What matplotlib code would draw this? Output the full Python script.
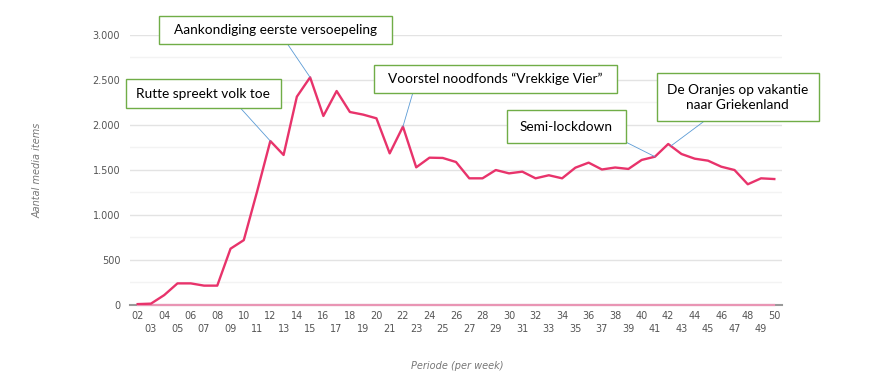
import matplotlib
matplotlib.use("Agg")
import matplotlib.pyplot as plt
from matplotlib.patches import Rectangle
from matplotlib.ticker import MultipleLocator, FuncFormatter

weeks = list(range(2, 51))
media_items = [10, 15, 110, 240, 240, 215, 215, 625, 720, 1258, 1820, 1665,
               2312, 2527, 2098, 2375, 2142, 2113, 2072, 1683, 1980, 1528,
               1635, 1632, 1587, 1406, 1406, 1498, 1461, 1480, 1406, 1440,
               1406, 1524, 1580, 1504, 1526, 1510, 1610, 1646, 1787, 1676,
               1624, 1602, 1535, 1498, 1340, 1406, 1398]
second_series = [0] * len(weeks)
week_labels = [f"{w:02d}" for w in weeks]

annotations = [
    ("Rutte spreekt volk toe", 12),
    ("Aankondiging eerste versoepeling", 15),
    ("Voorstel noodfonds \u201cVrekkige Vier\u201d", 22),
    ("Semi-lockdown", 41),
    ("De Oranjes op vakantie\nnaar Griekenland", 42.2),
]

W, H = 885, 376
fig = plt.figure(figsize=(W / 100, H / 100), dpi=100)
ax = fig.add_axes([130 / W, 1 - 305 / H, (782 - 130) / W, (305 - 34.7) / H])

ax.set_xlim(1.42, 50.58)
ax.set_ylim(0, 3000)

ax.yaxis.set_major_locator(MultipleLocator(500))
ax.yaxis.set_minor_locator(MultipleLocator(250))
ax.yaxis.set_major_formatter(FuncFormatter(lambda v, p: f"{int(v):,}".replace(",", ".")))
ax.grid(axis="y", which="major", color="#e3e3e3", lw=1.0)
ax.grid(axis="y", which="minor", color="#f3f3f3", lw=1.0)
ax.set_axisbelow(True)

ax.set_xticks([w for w in weeks if w % 2 == 0])
ax.set_xticklabels([l for w, l in zip(weeks, week_labels) if w % 2 == 0])
ax.set_xticks([w for w in weeks if w % 2 == 1], minor=True)
ax.set_xticklabels([l for w, l in zip(weeks, week_labels) if w % 2 == 1], minor=True)

ax.tick_params(axis="x", which="major", length=0, pad=4.5, labelsize=7, labelcolor="#555555")
ax.tick_params(axis="x", which="minor", length=0, pad=14, labelsize=7, labelcolor="#555555")
ax.tick_params(axis="y", which="both", length=0, pad=7, labelsize=7, labelcolor="#555555")

for s in ["top", "right", "left"]:
    ax.spines[s].set_visible(False)
ax.spines["bottom"].set_color("#999999")
ax.spines["bottom"].set_linewidth(1.5)

ax.plot(weeks, second_series, color="#e995b4", lw=1.6, zorder=3, clip_on=False)
ax.plot(weeks, media_items, color="#e8336b", lw=1.7, zorder=4)

ax.set_ylabel("Aantal media items", fontsize=7, style="italic", color="#777777")
ax.yaxis.set_label_coords(-(130 - 43) / (782 - 130), (305 - 170) / (305 - 34.7))
ax.set_xlabel("Periode (per week)", fontsize=7, style="italic", color="#777777")
ax.xaxis.set_label_coords((457 - 130) / (782 - 130), -(361 - 305) / (305 - 34.7))

# boxes: (x0, y0, x1, y1) in pixels from top-left; leader start in pixels
boxes = [
    (125.7, 79.3, 280.7, 108.3, (240.7, 108.3)),
    (159.3, 16.3, 391.7, 44.3, (287.7, 44.3)),
    (374.3, 65.0, 616.7, 93.3, (412.7, 93.3)),
    (507.3, 110.3, 625.7, 143.3, (625.7, 142.0)),
    (656.7, 73.3, 818.7, 121.3, (704.0, 121.3)),
]
vals = dict(zip(weeks, media_items))
for (text, wk), (x0, y0, x1, y1, (lx, ly)) in zip(annotations, boxes):
    rect = Rectangle((x0 / W, 1 - y1 / H), (x1 - x0) / W, (y1 - y0) / H,
                     transform=fig.transFigure, facecolor="white",
                     edgecolor="#70ad47", lw=1.0, zorder=5)
    fig.patches.append(rect)
    fig.text((x0 + x1) / 2 / W, 1 - (y0 + y1) / 2 / H, text, ha="center", va="center",
             fontsize=9.8, family="Lato", color="black", linespacing=1.3, zorder=6)
    wi = int(wk)
    yv = vals[wi] + (vals.get(wi + 1, vals[wi]) - vals[wi]) * (wk - wi)
    ax.annotate("", xy=(wk, yv), xycoords="data", xytext=(lx, H - ly),
                textcoords="figure pixels",
                arrowprops=dict(arrowstyle="-", color="#5b9bd5", lw=0.6,
                                shrinkA=0, shrinkB=0), zorder=6)

fig.savefig("out.png", dpi=100, facecolor="white")
